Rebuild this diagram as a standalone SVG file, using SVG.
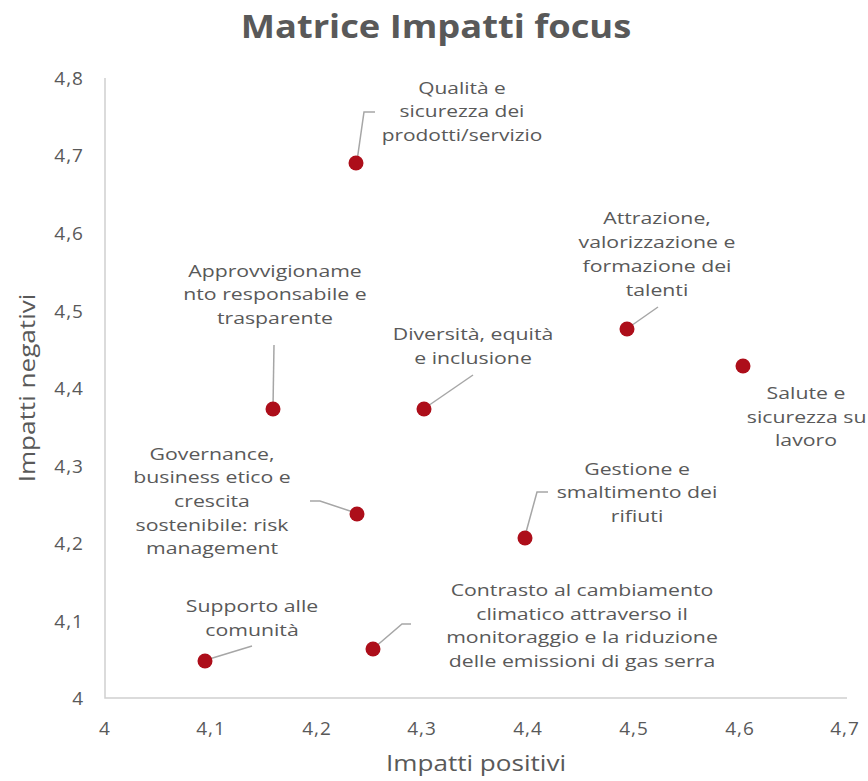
<svg xmlns="http://www.w3.org/2000/svg" width="868" height="781" viewBox="0 0 868 781">
<style>
text{font-family:"Open Sans","Liberation Sans",sans-serif;fill:#595959}
.tick{font-size:19px}
.lbl{font-size:17px;text-anchor:middle}
.ax{font-size:22.5px;text-anchor:middle}
.dot{fill:#ad0e1a}
.lead{fill:none;stroke:#a6a6a6;stroke-width:1.5}
.axis{stroke:#d0d0d0;stroke-width:1.5;fill:none}
</style>
<rect width="868" height="781" fill="#fff"/>
<text transform="translate(436,38) scale(1.1,1)" font-size="33" font-weight="bold" text-anchor="middle">Matrice Impatti focus</text>
<path class="axis" d="M105,78 V698 H847"/>
<g class="tick" text-anchor="end" letter-spacing="1">
<text x="84" y="85">4,8</text><text x="84" y="162">4,7</text><text x="84" y="240">4,6</text><text x="84" y="318">4,5</text><text x="84" y="395">4,4</text><text x="84" y="473">4,3</text><text x="84" y="550">4,2</text><text x="84" y="628">4,1</text><text x="84" y="705">4</text>
</g>
<g class="tick" text-anchor="middle" letter-spacing="1">
<text x="105" y="735">4</text><text x="211" y="735">4,1</text><text x="317" y="735">4,2</text><text x="422" y="735">4,3</text><text x="528" y="735">4,4</text><text x="634" y="735">4,5</text><text x="740" y="735">4,6</text><text x="845" y="735">4,7</text>
</g>
<text class="ax" transform="translate(476,771) scale(1.16,1)">Impatti positivi</text>
<text class="ax" transform="translate(35,388) rotate(-90) scale(1.16,1)">Impatti negativi</text>
<g id="connectors">
<path class="lead" d="M357,161 L364,112 H375"/>
<path class="lead" d="M273,407 L274,345"/>
<path class="lead" d="M425,408 L473,375"/>
<path class="lead" d="M628,328 L658,307"/>
<path class="lead" d="M310,501 H320 L356,513"/>
<path class="lead" d="M525,536 L537,492 H548"/>
<path class="lead" d="M206,660 L252,646"/>
<path class="lead" d="M374,648 L402,624 H411"/>
</g>
<g id="n-qualita"><circle class="dot" cx="356" cy="163" r="7.5"/><g transform="translate(462,0) scale(1.23,1)"><text class="lbl" x="0" y="94">Qualità e</text><text class="lbl" x="0" y="117">sicurezza dei</text><text class="lbl" x="0" y="141">prodotti/servizio</text></g></g>
<g id="n-approv"><circle class="dot" cx="273" cy="409" r="7.5"/><g transform="translate(275,0) scale(1.25,1)"><text class="lbl" x="0" y="277">Approvvigioname</text><text class="lbl" x="0" y="300">nto responsabile e</text><text class="lbl" x="0" y="324">trasparente</text></g></g>
<g id="n-diversita"><circle class="dot" cx="424" cy="409" r="7.5"/><g transform="translate(473,0) scale(1.25,1)"><text class="lbl" x="0" y="340">Diversità, equità</text><text class="lbl" x="0" y="364">e inclusione</text></g></g>
<g id="n-attrazione"><circle class="dot" cx="627" cy="329" r="7.5"/><g transform="translate(657,0) scale(1.25,1)"><text class="lbl" x="0" y="224">Attrazione,</text><text class="lbl" x="0" y="248">valorizzazione e</text><text class="lbl" x="0" y="272">formazione dei</text><text class="lbl" x="0" y="296">talenti</text></g></g>
<g id="n-salute"><circle class="dot" cx="743" cy="366" r="7.5"/><g transform="translate(806,0) scale(1.25,1)"><text class="lbl" x="0" y="399">Salute e</text><text class="lbl" x="0.5" y="423">sicurezza su</text><text class="lbl" x="0" y="446">lavoro</text></g></g>
<g id="n-governance"><circle class="dot" cx="357" cy="514" r="7.5"/><g transform="translate(212,0) scale(1.25,1)"><text class="lbl" x="0" y="460">Governance,</text><text class="lbl" x="0" y="483">business etico e</text><text class="lbl" x="0" y="507">crescita</text><text class="lbl" x="0" y="531">sostenibile: risk</text><text class="lbl" x="0" y="554">management</text></g></g>
<g id="n-gestione"><circle class="dot" cx="525" cy="538" r="7.5"/><g transform="translate(637,0) scale(1.25,1)"><text class="lbl" x="0" y="475">Gestione e</text><text class="lbl" x="0" y="498">smaltimento dei</text><text class="lbl" x="0" y="522">rifiuti</text></g></g>
<g id="n-supporto"><circle class="dot" cx="205" cy="661" r="7.5"/><g transform="translate(252,0) scale(1.25,1)"><text class="lbl" x="0" y="612">Supporto alle</text><text class="lbl" x="0" y="636">comunità</text></g></g>
<g id="n-contrasto"><circle class="dot" cx="373" cy="649" r="7.5"/><g transform="translate(582,0) scale(1.25,1)"><text class="lbl" x="0" y="596">Contrasto al cambiamento</text><text class="lbl" x="0" y="620">climatico attraverso il</text><text class="lbl" x="0" y="643">monitoraggio e la riduzione</text><text class="lbl" x="0" y="667">delle emissioni di gas serra</text></g></g>
</svg>
